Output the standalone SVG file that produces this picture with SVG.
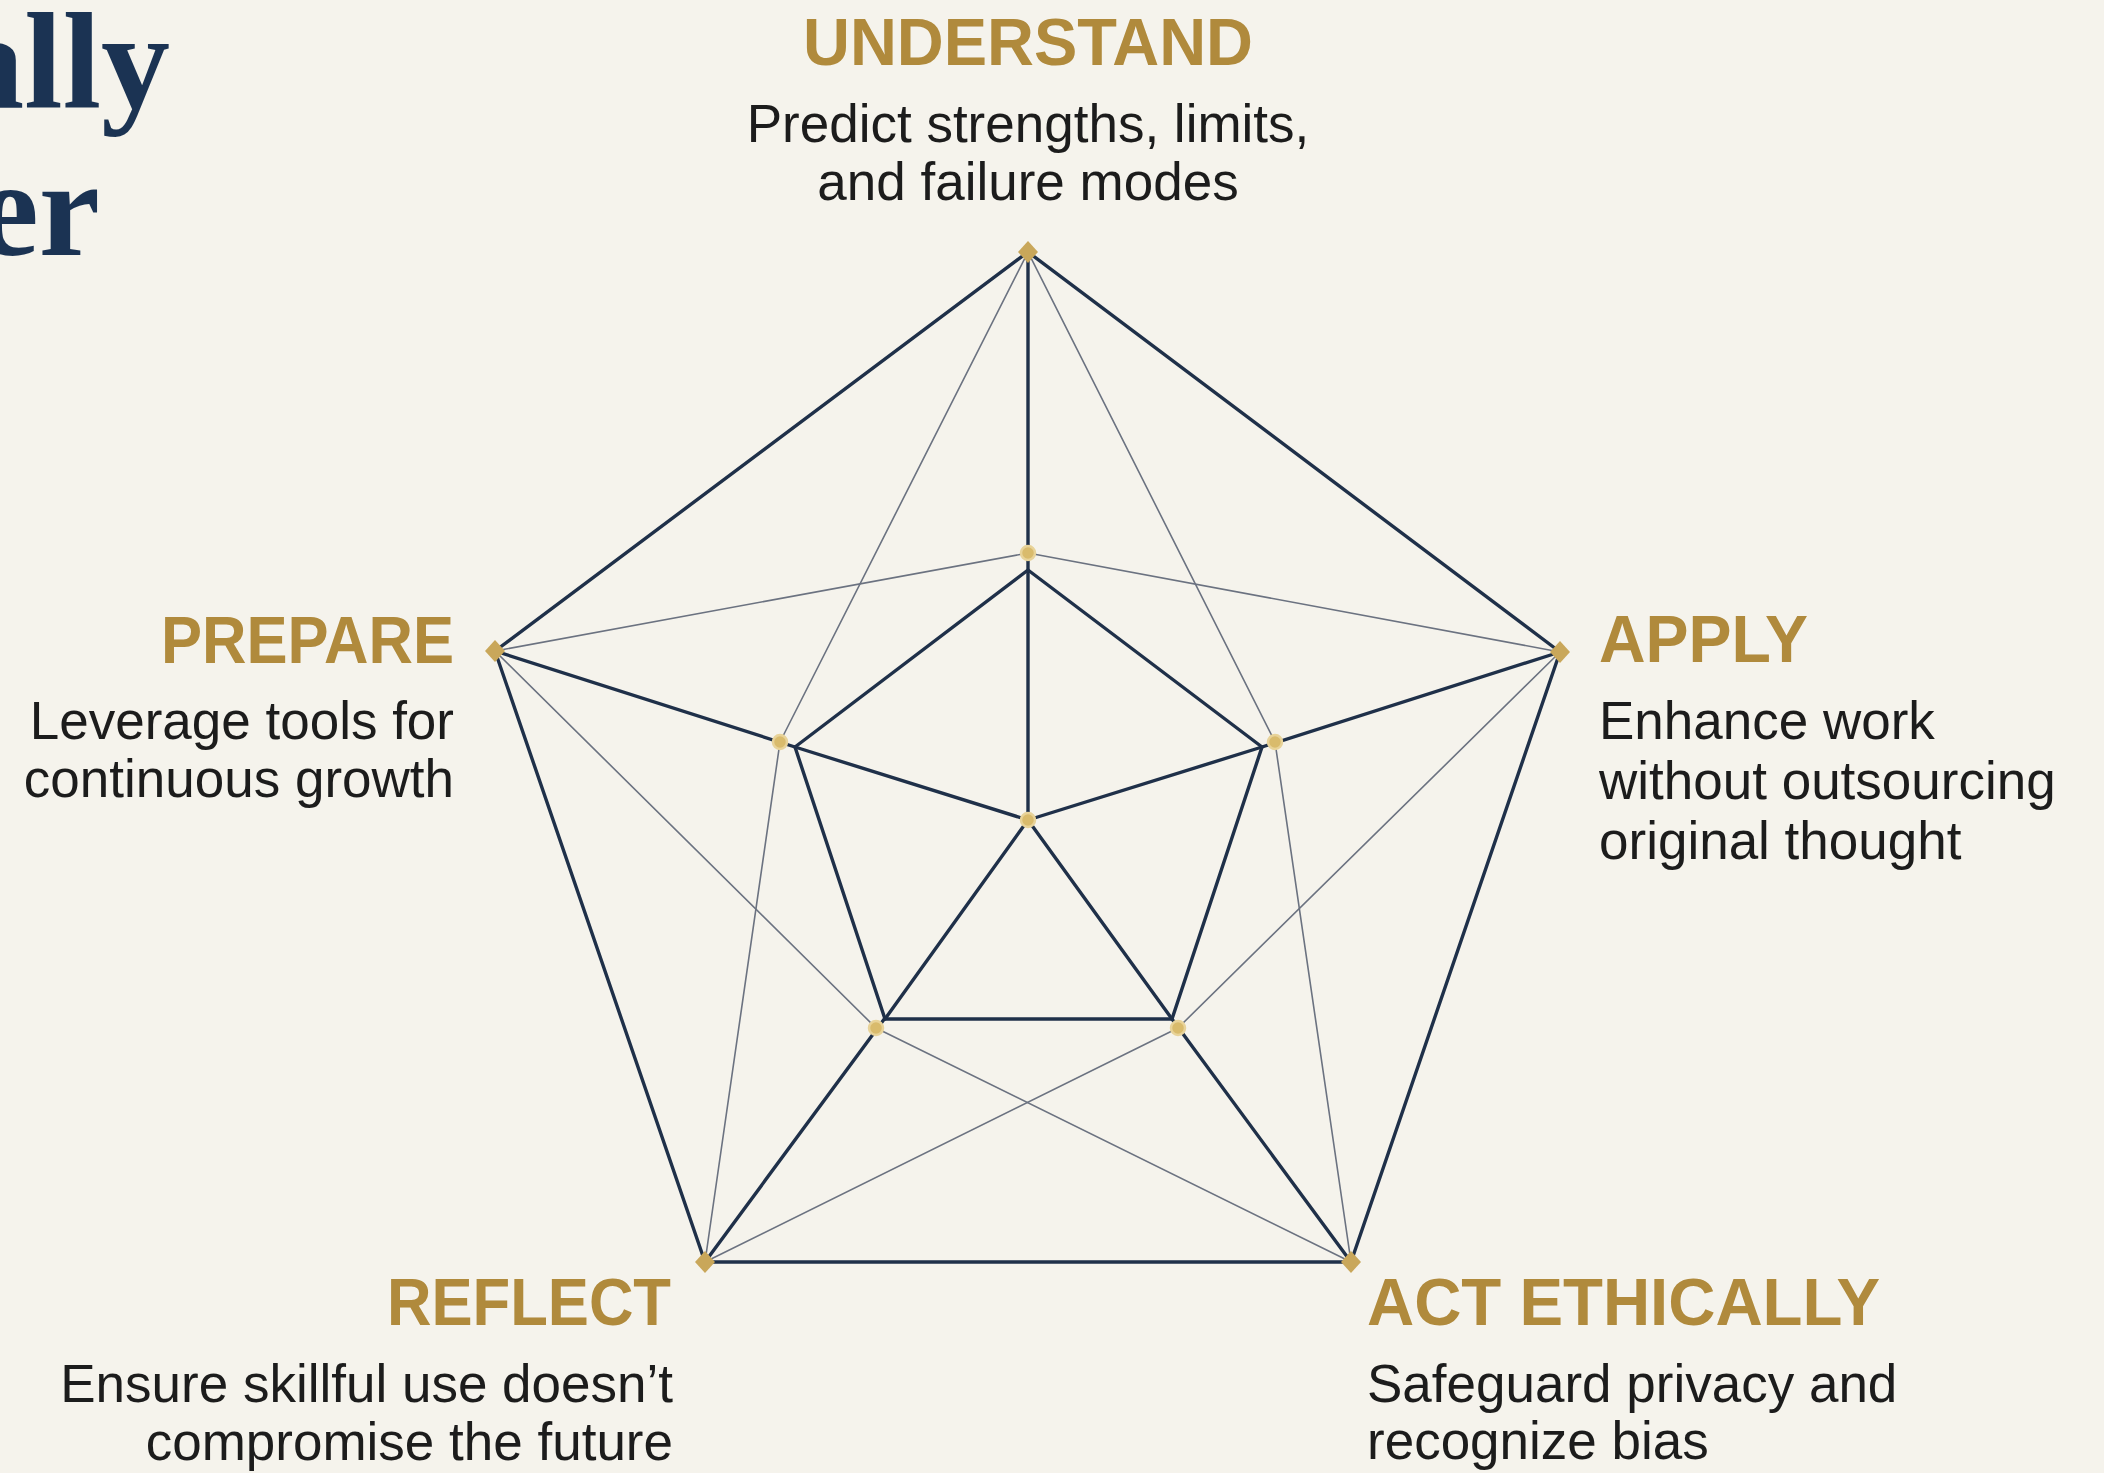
<svg xmlns="http://www.w3.org/2000/svg" width="2104" height="1473" viewBox="0 0 2104 1473">
<style>
.title{font-family:"Liberation Serif",serif;font-weight:bold;font-size:138px;fill:#1b3353}
.head{font-family:"Liberation Sans",Arial,sans-serif;font-weight:bold;font-size:66px;fill:#b08a3c}
.desc{font-family:"Liberation Sans",Arial,sans-serif;font-size:53px;fill:#1c1c1c}
.thick{stroke:#1f3049;stroke-width:3.4;fill:none;stroke-linecap:round;stroke-linejoin:round}
.thin{stroke:#6b7280;stroke-width:1.6;fill:none;stroke-linecap:round}
.dot{fill:#d9bb6c;stroke:#e8d399;stroke-width:2.5}
.vtx{fill:#c9a75a}
</style>
<rect width="2104" height="1473" fill="#f5f3ec"/>
<g id="title">
<text class="title" x="170" y="108" text-anchor="end">ally</text>
<text class="title" x="100" y="255" text-anchor="end">er</text>
</g>
<g id="connectors">
<line class="thin" x1="1028" y1="252" x2="780" y2="742"/>
<line class="thin" x1="1028" y1="252" x2="1275" y2="742"/>
<line class="thin" x1="1560" y1="652" x2="1028" y2="553"/>
<line class="thin" x1="1560" y1="652" x2="1178" y2="1028"/>
<line class="thin" x1="1351" y1="1262" x2="1275" y2="742"/>
<line class="thin" x1="1351" y1="1262" x2="876" y2="1028"/>
<line class="thin" x1="705" y1="1262" x2="1178" y2="1028"/>
<line class="thin" x1="705" y1="1262" x2="780" y2="742"/>
<line class="thin" x1="495" y1="651" x2="876" y2="1028"/>
<line class="thin" x1="495" y1="651" x2="1028" y2="553"/>
<polygon class="thick" points="1028,252 1560,652 1351,1262 705,1262 495,651"/>
<line class="thick" x1="1028" y1="252" x2="1028" y2="820"/>
<line class="thick" x1="1560" y1="652" x2="1262" y2="747"/>
<line class="thick" x1="1351" y1="1262" x2="1172" y2="1019"/>
<line class="thick" x1="705" y1="1262" x2="885" y2="1018"/>
<line class="thick" x1="495" y1="651" x2="795" y2="747"/>
<polygon class="thick" points="1028,570 1262,747 1172,1019 885,1019 795,747"/>
<line class="thick" x1="1028" y1="820" x2="1262" y2="747"/>
<line class="thick" x1="1028" y1="820" x2="795" y2="747"/>
<line class="thick" x1="1028" y1="820" x2="885" y2="1019"/>
<line class="thick" x1="1028" y1="820" x2="1172" y2="1019"/>
</g>
<g id="dots">
<circle class="dot" cx="1028" cy="553" r="7"/>
<circle class="dot" cx="1275" cy="742" r="7"/>
<circle class="dot" cx="780" cy="742" r="7"/>
<circle class="dot" cx="876" cy="1028" r="7"/>
<circle class="dot" cx="1178" cy="1028" r="7"/>
<circle class="dot" cx="1028" cy="820" r="7"/>
</g>
<g id="understand">
<polygon class="vtx" points="1028,241 1038,252 1028,263 1018,252"/>
<text class="head" x="1028" y="65" text-anchor="middle" textLength="450" lengthAdjust="spacingAndGlyphs">UNDERSTAND</text>
<text class="desc" x="1028" y="142" text-anchor="middle">Predict strengths, limits,</text>
<text class="desc" x="1028" y="200" text-anchor="middle">and failure modes</text>
</g>
<g id="apply">
<polygon class="vtx" points="1560,641 1570,652 1560,663 1550,652"/>
<text class="head" x="1599" y="662" textLength="209" lengthAdjust="spacingAndGlyphs">APPLY</text>
<text class="desc" x="1599" y="739">Enhance work</text>
<text class="desc" x="1599" y="799">without outsourcing</text>
<text class="desc" x="1599" y="859">original thought</text>
</g>
<g id="act-ethically">
<polygon class="vtx" points="1351,1251 1361,1262 1351,1273 1341,1262"/>
<text class="head" x="1367" y="1325" textLength="513" lengthAdjust="spacingAndGlyphs">ACT ETHICALLY</text>
<text class="desc" x="1367" y="1402">Safeguard privacy and</text>
<text class="desc" x="1367" y="1459">recognize bias</text>
</g>
<g id="reflect">
<polygon class="vtx" points="705,1251 715,1262 705,1273 695,1262"/>
<text class="head" x="671" y="1325" text-anchor="end" textLength="284" lengthAdjust="spacingAndGlyphs">REFLECT</text>
<text class="desc" x="673" y="1402" text-anchor="end">Ensure skillful use doesn’t</text>
<text class="desc" x="673" y="1460" text-anchor="end">compromise the future</text>
</g>
<g id="prepare">
<polygon class="vtx" points="495,640 505,651 495,662 485,651"/>
<text class="head" x="454" y="663" text-anchor="end" textLength="293" lengthAdjust="spacingAndGlyphs">PREPARE</text>
<text class="desc" x="454" y="739" text-anchor="end">Leverage tools for</text>
<text class="desc" x="454" y="797" text-anchor="end">continuous growth</text>
</g>
</svg>
